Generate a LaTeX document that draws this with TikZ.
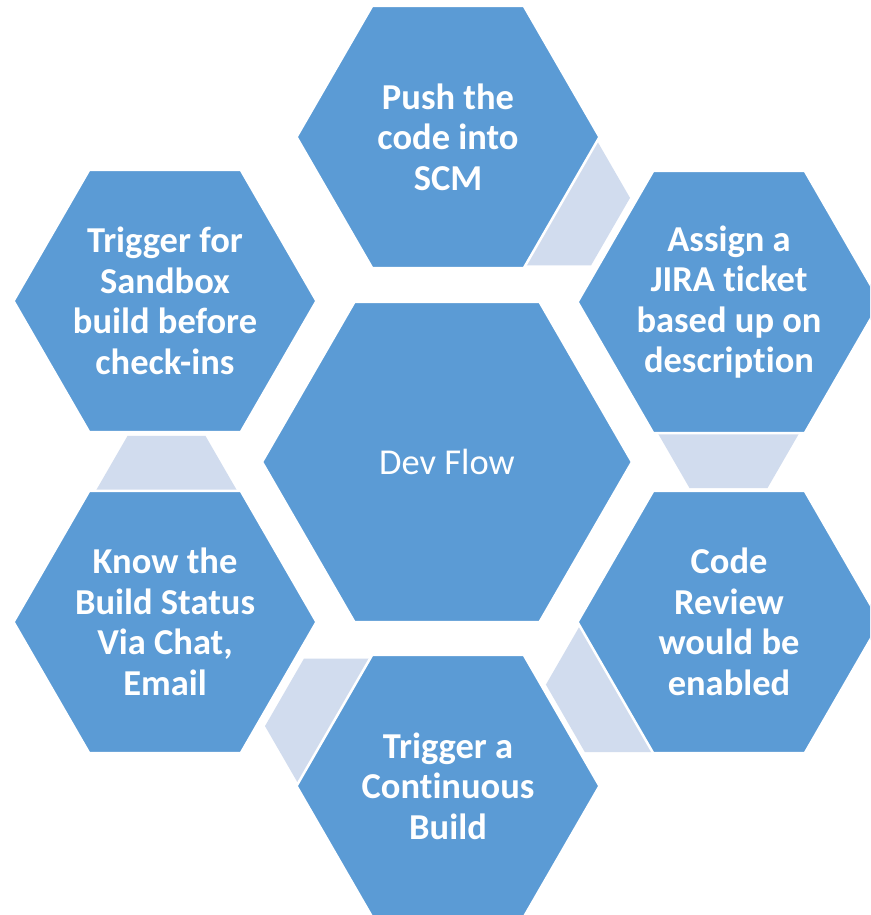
\documentclass[tikz,border=0pt]{standalone}
\usepackage{fontspec}
\setmainfont{Carlito}[Ligatures={NoCommon}]
\usetikzlibrary{shapes.geometric}
\definecolor{hexblue}{HTML}{5B9BD5}
\definecolor{linkblue}{HTML}{D1DCEE}
\begin{document}
\begin{tikzpicture}[x=1pt,y=-1pt,
  hexbase/.style={shape=regular polygon, regular polygon sides=6,
    inner sep=0pt, outer sep=0pt},
  stepbox/.style={hexbase, minimum size=303pt, fill=hexblue, draw=white,
    line width=2.5pt, text=white, align=center,
    font=\fontsize{36.5}{40.5}\selectfont\bfseries},
  hub/.style={hexbase, minimum size=370pt, fill=hexblue, draw=white,
    line width=2.5pt, text=white,
    font=\fontsize{36.5}{40.5}\selectfont},
  link/.style={hexbase, minimum size=156pt, fill=linkblue}]

\useasboundingbox (0,0) rectangle (870,915);
\clip (0,0) rectangle (870,915);
\fill[white] (0,0) rectangle (870,915);

% small link hexagons sitting behind each pair of neighbouring steps
\node[link] (l-push-jira)   at (552.0,197.9) {};
\node[link] (l-jira-review) at (728.5,420.5) {};
\node[link] (l-review-ci)   at (623.9,684.6) {};
\node[link] (l-ci-status)   at (343.0,726.1) {};
\node[link] (l-status-sand) at (166.5,503.5) {};

% the six steps around the hub
\node[stepbox] (push)   at (448,137) {Push the\\code into\\SCM};
\node[stepbox] (jira)   at (729,302) {Assign a\\JIRA ticket\\based up on\\description};
\node[stepbox] (review) at (729,622) {Code\\Review\\would be\\enabled};
\node[stepbox] (ci)     at (448,786) {Trigger a\\Continuous\\Build};
\node[stepbox] (status) at (165,622) {Know the\\Build Status\\Via Chat,\\Email};
\node[stepbox] (sand)   at (165,301) {Trigger for\\Sandbox\\build before\\check-ins};

% central hexagon
\node[hub] (flow) at (447,462) {Dev Flow};
\end{tikzpicture}
\end{document}
